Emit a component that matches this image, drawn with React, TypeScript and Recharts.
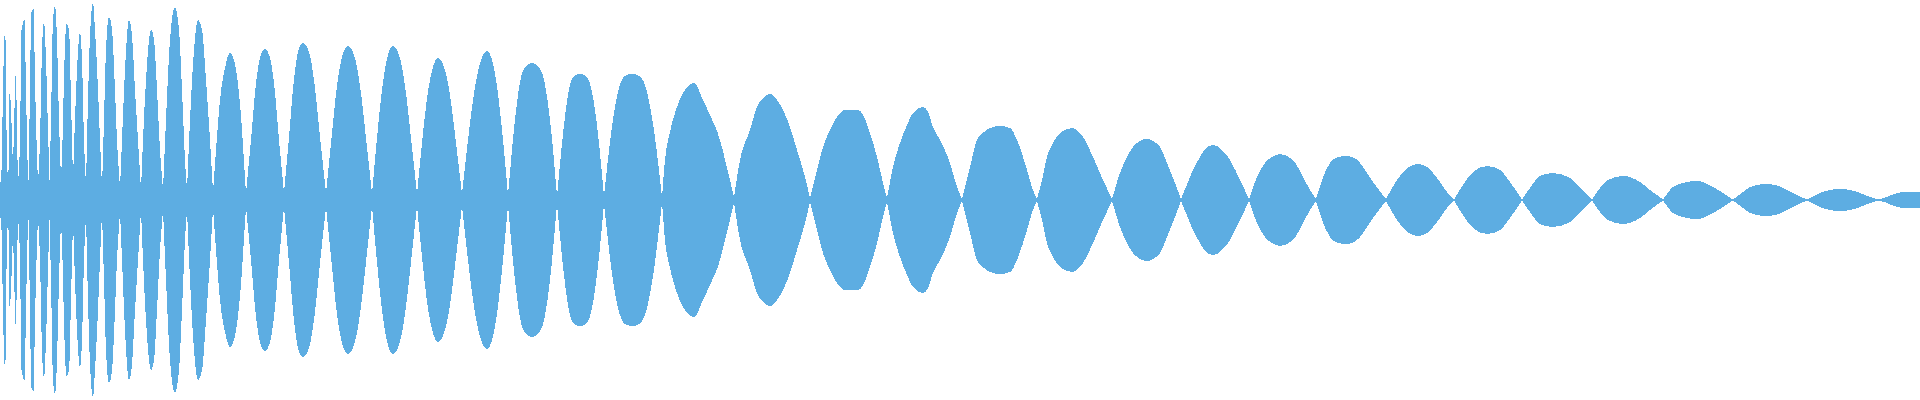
import React from "react";
import { AreaChart, Area, XAxis, YAxis } from "recharts";

// Sample positions (x, 0..1920) and envelope amplitudes (0..1), read lobe by lobe
const sampleX: number[] = [
  0, 1.5, 3, 4.5, 5.5, 6.5, 7.5, 8.5, 9.5, 11, 12, 13, 14, 15.5, 16.5, 17.5, 18.5, 20, 21.5, 24.5, 26, 27.5, 28.5, 29.5,
  31.5, 33.5, 35, 36.5, 38, 40, 42, 44, 46, 48, 49.5, 51, 53, 55, 57, 59, 61, 62.5, 64.5, 66.5, 69, 71, 73, 75, 77.5,
  80, 82, 84, 86,
  88, 90, 93, 95, 98, 100, 102,
  104, 106, 109, 112, 115, 117, 120,
  122, 125, 129, 132, 135, 138, 141,
  143, 146, 151, 154, 157, 160, 163,
  166, 170, 175, 179, 182, 185, 187,
  190, 194, 198, 202, 206, 210, 213,
  216, 220, 225, 230, 235, 240, 246,
  251, 255.5, 260, 265, 270, 274.5, 279, 284,
  289, 293.5, 298, 303, 309, 314.5, 320, 326,
  331.5, 337, 342.5, 348, 354, 360, 366, 372,
  377, 382.5, 388, 393, 399, 405, 411, 417,
  422, 427.5, 433, 438, 444, 450, 456, 462,
  468, 474.5, 481, 487, 492, 497.5, 503, 508,
  514, 520, 526, 532, 538, 544.5, 551, 557,
  563, 568.5, 574, 580, 586, 592, 598, 604,
  611, 618, 625, 632, 639.5, 647, 654.5, 662,
  665, 670, 677, 685, 694, 703, 710, 720, 727, 734,
  740, 750, 757, 763, 770, 777, 783, 790, 797, 805, 810,
  817, 823, 830, 837, 845, 858, 863, 870, 877, 883, 887,
  893, 900, 907, 913, 923, 928, 933, 940, 950, 957, 962,
  970, 977, 984, 990, 1000, 1010, 1017, 1027, 1033, 1037,
  1042, 1047, 1053, 1060, 1072, 1083, 1093, 1103, 1112,
  1120, 1127, 1133, 1147, 1160, 1167, 1175, 1181,
  1188, 1193, 1200, 1206, 1213, 1222, 1230, 1240, 1249,
  1257, 1265, 1272, 1280, 1293, 1303, 1310, 1316,
  1322, 1330, 1338, 1347, 1356, 1363, 1373, 1386,
  1397, 1407, 1418, 1427, 1433, 1440, 1447, 1454,
  1463, 1473, 1487, 1500, 1510, 1517, 1522,
  1530, 1540, 1553, 1570, 1580, 1592,
  1600, 1608, 1623, 1640, 1650, 1663,
  1673, 1683, 1697, 1713, 1723, 1733,
  1743, 1750, 1765, 1778, 1787, 1797, 1807,
  1820, 1830, 1840, 1852, 1860, 1870, 1879,
  1887, 1897, 1910, 1920,
];

const sampleAmp: number[] = [
  0.07, 0.15, 0.55, 0.82, 0.8, 0.35, 0.14, 0.15, 0.53, 0.46, 0.3, 0.17, 0.35, 0.62, 0.5, 0.2, 0.12, 0.3, 0.85, 0.9, 0.55, 0.2, 0.1, 0.4,
  0.94, 0.955, 0.6, 0.3, 0.08, 0.3, 0.75, 0.89, 0.7, 0.35, 0.1, 0.4, 0.9, 0.97, 0.8, 0.4, 0.1, 0.3, 0.7, 0.88, 0.85, 0.5, 0.1, 0.4, 0.7,
  0.835, 0.7, 0.3, 0.07,
  0.5, 0.82, 0.985, 0.85, 0.55, 0.3, 0.06,
  0.4, 0.75, 0.915, 0.85, 0.55, 0.3, 0.06,
  0.3, 0.65, 0.9, 0.82, 0.55, 0.3, 0.05,
  0.3, 0.6, 0.85, 0.8, 0.55, 0.25, 0.05,
  0.4, 0.8, 0.965, 0.85, 0.55, 0.2, 0.05,
  0.4, 0.75, 0.9, 0.85, 0.6, 0.3, 0.04,
  0.25, 0.5, 0.66, 0.735, 0.68, 0.48, 0.035,
  0.3, 0.56, 0.71, 0.755, 0.71, 0.56, 0.3, 0.035,
  0.315, 0.58, 0.74, 0.785, 0.74, 0.58, 0.315, 0.035,
  0.31, 0.57, 0.725, 0.77, 0.725, 0.57, 0.31, 0.03,
  0.31, 0.57, 0.725, 0.77, 0.725, 0.57, 0.31, 0.03,
  0.285, 0.525, 0.665, 0.71, 0.665, 0.525, 0.285, 0.03,
  0.3, 0.55, 0.7, 0.745, 0.7, 0.55, 0.3, 0.025,
  0.355, 0.59, 0.67, 0.685, 0.67, 0.59, 0.355, 0.02,
  0.33, 0.54, 0.62, 0.63, 0.62, 0.54, 0.33, 0.02,
  0.33, 0.54, 0.62, 0.63, 0.62, 0.54, 0.33, 0.015,
  0.2, 0.34, 0.465, 0.55, 0.585, 0.5, 0.425, 0.3, 0.16, 0.015,
  0.2, 0.35, 0.465, 0.51, 0.53, 0.5, 0.45, 0.365, 0.25, 0.115, 0.01,
  0.15, 0.265, 0.35, 0.415, 0.45, 0.45, 0.425, 0.335, 0.215, 0.085, 0.01,
  0.165, 0.285, 0.375, 0.435, 0.465, 0.44, 0.365, 0.3, 0.185, 0.065, 0.005,
  0.165, 0.3, 0.34, 0.36, 0.37, 0.36, 0.3, 0.15, 0.05, 0.005,
  0.1, 0.215, 0.285, 0.335, 0.36, 0.315, 0.215, 0.1, 0.005,
  0.135, 0.215, 0.265, 0.305, 0.265, 0.185, 0.085, 0.005,
  0.09, 0.15, 0.215, 0.26, 0.275, 0.25, 0.2, 0.1, 0.005,
  0.115, 0.185, 0.215, 0.23, 0.2, 0.115, 0.05, 0.005,
  0.1, 0.185, 0.215, 0.22, 0.205, 0.165, 0.09, 0.005,
  0.1, 0.16, 0.18, 0.165, 0.135, 0.09, 0.04, 0.003,
  0.075, 0.14, 0.17, 0.15, 0.09, 0.04, 0.003,
  0.06, 0.12, 0.135, 0.11, 0.06, 0.003,
  0.06, 0.1, 0.12, 0.09, 0.05, 0.003,
  0.065, 0.085, 0.095, 0.065, 0.035, 0.002,
  0.04, 0.065, 0.08, 0.072, 0.05, 0.025, 0.002,
  0.035, 0.05, 0.055, 0.048, 0.035, 0.015, 0.002,
  0.015, 0.035, 0.042, 0.04,
];

const WAVE_COLOR = "#5DADE2";
const CHART_W = 1920;
const CHART_H = 400;
const ZERO_ROW = CHART_H / 2; // pixel row of the zero line (no margins, symmetric domain)

// Smooth curve through the points: rounded at peaks, sharp at the zero crossings.
function lensCurve(context: any) {
  let pts: [number, number][] = [];
  let line = NaN;
  const draw = () => {
    const n = pts.length;
    if (!n) return;
    const [x0, y0] = pts[0];
    if (line === 1) context.lineTo(x0, y0);
    else context.moveTo(x0, y0);
    if (n === 1) return;
    const s: number[] = [];
    for (let i = 0; i < n - 1; i++) {
      const h = pts[i + 1][0] - pts[i][0];
      s.push(h === 0 ? 0 : (pts[i + 1][1] - pts[i][1]) / h);
    }
    const dist = pts.map((p) => Math.abs(p[1] - ZERO_ROW));
    const mIn: number[] = new Array(n).fill(0);
    const mOut: number[] = new Array(n).fill(0);
    for (let i = 0; i < n; i++) {
      if (i === 0) {
        mIn[i] = mOut[i] = s[0];
        continue;
      }
      if (i === n - 1) {
        mIn[i] = mOut[i] = s[n - 2];
        continue;
      }
      const a = s[i - 1];
      const b = s[i];
      if (dist[i] >= dist[i - 1] && dist[i] >= dist[i + 1]) {
        mIn[i] = mOut[i] = 0;
      } else if (dist[i] <= dist[i - 1] && dist[i] <= dist[i + 1]) {
        mIn[i] = a;
        mOut[i] = b;
      } else {
        const h0 = Math.abs(pts[i][0] - pts[i - 1][0]);
        const h1 = Math.abs(pts[i + 1][0] - pts[i][0]);
        let m = 0;
        if (a * b > 0) {
          const p = (a * h1 + b * h0) / (h0 + h1);
          m = (Math.sign(a) + Math.sign(b)) * Math.min(Math.abs(a), Math.abs(b), 0.5 * Math.abs(p));
        }
        mIn[i] = mOut[i] = m;
      }
    }
    for (let i = 0; i < n - 1; i++) {
      const [xa, ya] = pts[i];
      const [xb, yb] = pts[i + 1];
      const h = (xb - xa) / 3;
      context.bezierCurveTo(xa + h, ya + mOut[i] * h, xb - h, yb - mIn[i + 1] * h, xb, yb);
    }
  };
  return {
    areaStart() {
      line = 0;
    },
    areaEnd() {
      line = NaN;
    },
    lineStart() {
      pts = [];
    },
    lineEnd() {
      draw();
      if (line === 1) context.closePath();
      if (!Number.isNaN(line)) line = 1 - line;
    },
    point(x: number, y: number) {
      pts.push([+x, +y]);
    },
  };
}

export default function App() {
  const data = sampleX.map((x, i) => {
    const a = sampleAmp[i] ?? 0;
    return { x, band: [-a, a] as [number, number] };
  });
  return (
    <div style={{ position: "absolute", left: 0, top: 0, width: CHART_W, height: CHART_H, background: "#fff" }}>
      <AreaChart width={CHART_W} height={CHART_H} data={data} margin={{ top: 0, right: 0, bottom: 0, left: 0 }}>
        <XAxis type="number" dataKey="x" domain={[0, 1920]} hide />
        <YAxis type="number" domain={[-1, 1]} hide />
        <Area
          type={lensCurve as any}
          dataKey="band"
          stroke="none"
          fill={WAVE_COLOR}
          fillOpacity={1}
          shapeRendering="crispEdges"
          isAnimationActive={false}
          dot={false}
          activeDot={false}
        />
      </AreaChart>
    </div>
  );
}
